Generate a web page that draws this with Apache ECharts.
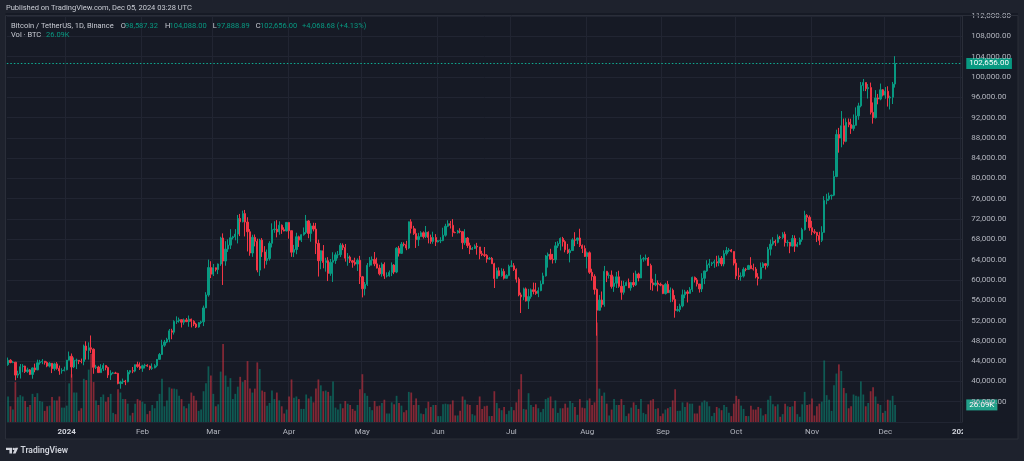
<!DOCTYPE html>
<html><head><meta charset="utf-8">
<script src="https://cdn.jsdelivr.net/npm/echarts@6/dist/echarts.min.js"></script>
<style>html,body{margin:0;padding:0;background:#1e222d;}#c{width:1024px;height:461px;}</style>
</head><body><div id="c"></div>
<script>
// ---------- DATA (BTC/USDT daily, Dec 8 2023 .. Dec 5 2024) ----------
const startDate = [2023, 11, 8];
const totalSlots = 391; // includes empty future days up to Jan 1 2025
const monthStarts = ['2024-01-01','2024-02-01','2024-03-01','2024-04-01','2024-05-01','2024-06-01','2024-07-01','2024-08-01','2024-09-01','2024-10-01','2024-11-01','2024-12-01','2025-01-01'];
const monthLabels = ['2024','Feb','Mar','Apr','May','Jun','Jul','Aug','Sep','Oct','Nov','Dec','2025'];
const priceTicks = [32000, 112000, 4000];

const opens = [
43290,44170,43720,43790,41240,41480,42890,43020,41940,42270,41370,42650,42270,43660,43860,43990,43730,43010,43580,42510,43450,42580,42070,42140,
42280,44180,44950,42840,44150,44160,43970,43930,46970,46110,46630,46340,42780,42840,41730,42500,43140,42740,41260,41620,41660,41580,39570,39890,40080,39930,41820,42120,42030,43300,42950,
42580,43080,43190,43010,42580,42660,43090,44340,45290,47130,47750,48290,49960,49700,51800,51920,52160,51660,52120,51780,52260,51840,51300,50730,51570,51730,54480,57040,62430,
61130,62390,62030,63130,68250,63720,66070,66850,68300,68500,69020,72100,71450,73070,71390,69490,65300,68390,67610,61930,67840,65500,63800,64220,67210,69880,69990,69460,70780,69890,69640,
71330,69700,65460,65970,68500,67840,68900,69360,71620,69150,70630,70010,67200,63790,65740,63420,63790,61280,63470,63820,64940,64960,66840,66400,64290,64500,63770,63460,63120,63870,
60610,58250,59120,62890,63890,64030,63160,62330,61190,63070,60790,60800,61450,62930,61550,66250,65230,67050,66940,66280,71450,70140,69120,67930,68530,69290,68510,69400,68350,67580,68360,
67490,67710,67750,68800,70570,71080,70760,69340,69310,69650,69510,67320,68240,66760,66010,66190,66640,66490,65160,64960,64830,64100,64250,63180,60280,61810,60840,61680,60320,60890,
62680,62770,62040,60150,57040,56660,58230,55850,56710,58050,57720,57340,57890,59200,60790,64720,65040,64090,63970,66710,67160,68160,67530,65940,65370,65780,67900,67810,68250,66780,66190,
64620,65350,61500,60690,58120,54020,56040,55130,61700,60880,60940,58710,59350,60600,58740,57560,58870,59490,58430,59490,59010,61160,60380,64100,64180,64260,62830,59420,59030,59380,59120,
58970,57300,59130,57480,57970,56160,53950,54160,54870,57050,57640,57340,58130,60500,60000,59180,58210,60310,61760,62950,63200,63350,63580,63340,64260,63150,65180,65790,65890,65600,
63300,60800,60650,60750,62090,62070,62820,62220,62130,60580,60270,62440,63190,62850,66050,67040,67610,67400,68420,68360,69000,67370,67390,66660,68160,66640,67010,67930,69910,72720,72340,
70290,69490,69370,68740,67800,69360,75640,75900,76550,76680,80370,88650,87950,90370,87300,91060,90610,89850,90460,92310,94290,98320,98890,97670,97900,93010,91960,95860,95640,97460,
96410,97190,95840,96000,98587.32
];
const highs = [
44700,44370,44040,43800,42100,43430,43400,43090,42700,42430,42750,43500,44280,44240,44400,43990,43950,43800,43600,43680,43800,43120,42600,42900,
44190,45880,45500,44730,44490,44200,44500,47250,47900,47700,49050,46500,43260,43080,43400,43580,43200,42930,42200,41870,41890,41690,40130,40560,40300,42250,42200,42840,43300,43880,43750,
43290,43480,43380,43120,43540,43400,44370,45600,48200,48170,48590,50330,50370,52050,52820,52570,52200,52380,52490,52980,52370,52050,51550,51700,51960,54940,57580,64000,63680,
63140,62430,63230,68500,69170,67640,67990,69990,68680,70000,72800,73000,73650,73780,72350,70000,68900,68950,68120,68100,68240,66650,65980,67620,71150,71560,71770,71550,70920,70360,71370,
71340,69700,66900,69290,68720,69000,70330,72800,71760,71170,71260,71230,67930,65820,66870,64370,64480,64120,65450,65420,65700,67250,67200,67080,65290,64800,63920,64370,64230,64740,
60780,59600,63330,64500,64630,65500,64390,62990,63420,63460,61490,61850,63450,63100,66450,66700,67460,67400,67700,71500,71950,70650,70100,69270,69600,69560,70620,69560,68920,69500,69020,
67860,68410,70280,71060,71750,71630,71980,69530,69850,70180,69560,69990,68450,67330,66480,66990,67300,66490,65730,66480,65070,64520,64500,63370,62400,62480,62300,62200,61110,63000,
63850,63300,62280,60500,57500,58470,58500,58230,58300,59470,59420,58530,59850,61420,64900,65390,66130,65120,67480,67610,68370,68480,67820,67100,66150,68200,69400,68320,70080,66990,66800,
65590,65600,62200,61100,58300,57040,57720,62750,61770,61470,61860,60680,61580,61800,59850,59820,59700,60270,59620,61400,61830,61420,64950,64510,65000,64500,63200,60230,61190,59900,59460,
59070,59430,59810,58520,58300,56990,54850,55300,58100,58040,57990,58580,60650,60660,60380,59210,61320,61790,63870,64130,63560,64000,64750,64820,64700,65840,66500,66260,66080,65620,
64130,62390,61470,62480,62370,62970,64480,63200,62530,61320,63420,63480,63280,66500,67950,68420,67940,68970,68690,69400,69500,67840,67450,68850,68770,67450,68330,70270,73620,72960,72700,
71630,70000,69400,69480,70580,76500,76960,77200,76800,81500,89600,89950,93270,91790,91850,91800,91760,92600,94000,94900,99000,99590,98900,98600,98880,94970,97400,96650,98690,97600,
98000,98150,96300,99000,104088
];
const lows = [
43080,43580,43590,40220,40680,40560,41810,41660,41680,41250,40530,41800,42210,43300,43400,43300,42800,42760,41640,42100,42300,41300,41520,41970,
42180,44150,40750,42630,42430,43400,43560,43180,44300,44300,45610,41500,42440,41720,41720,42050,42200,40680,40280,41430,41500,39430,38560,39480,39260,39820,41400,41620,41800,42680,42270,
41880,42560,42880,42220,42260,42580,42790,44330,45240,46800,47540,47710,48300,49230,51320,51570,50620,51160,51680,50760,50630,50900,50520,50590,51280,50900,54450,56690,60360,
60760,61650,61140,62760,59000,62790,65510,66080,67960,67800,67190,68620,71330,68560,65600,64760,64540,66600,61500,60780,64530,62260,63000,63810,66390,69280,68380,68900,69070,69570,69570,
68120,64550,64500,65060,66500,67460,68720,69040,68210,67520,69560,65090,60660,62100,62280,61630,59770,60810,59600,63160,64240,64500,65870,63600,62790,63330,62400,62810,61760,59190,
56550,56940,58810,62590,62830,62700,62250,60890,60630,60190,60490,60630,60750,61130,61330,64600,65120,66600,65860,66050,69160,68860,66300,66680,68500,68150,68250,67200,67120,67130,66670,
67380,67250,67620,68520,70390,70120,68500,69200,69130,69180,66050,66900,66300,65080,65900,66080,64960,64060,64690,64500,63380,63950,63150,58400,60270,60710,60620,60070,60300,60720,
62500,61760,59460,56770,53480,56010,55750,54260,56290,57160,57050,56600,57760,59170,60650,62420,63900,63220,63300,66300,65800,66570,65430,65120,63450,65760,66640,67060,66480,65300,64520,
62250,61180,59850,57120,49000,53960,54560,54720,59570,60260,58290,57640,58400,58450,56080,57100,58790,58400,57870,58580,58790,59710,60350,63580,63800,62800,58030,57860,58760,57740,58750,
57200,57120,57410,55600,55680,52550,53740,53650,54600,56390,55550,57320,57640,59480,58700,57490,57610,59170,61570,62350,62740,62380,62600,62700,62700,62670,64820,65450,65420,62850,
60170,59990,59830,60460,61690,61950,62130,61830,60300,58900,60080,62420,62050,62450,64800,66750,66660,67210,68040,68080,66570,66570,65260,66580,65520,66450,66850,67500,69730,71440,69680,
68820,69020,67460,66840,67460,69320,74900,75590,75820,76500,80230,85070,86130,86670,87120,90090,88770,89380,90400,91540,94000,97200,97200,95730,92600,90790,91820,94600,95400,96160,
95700,94150,93580,94660,97888.89
];
const closes = [
44170,43720,43790,41240,41480,42890,43020,41940,42270,41370,42650,42270,43660,43860,43990,43730,43010,43580,42510,43450,42580,42070,42140,42280,
44180,44950,42840,44150,44160,43970,43930,46970,46110,46630,46340,42780,42840,41730,42500,43140,42740,41260,41620,41660,41580,39570,39890,40080,39930,41820,42120,42030,43300,42950,42580,
43080,43190,43010,42580,42660,43090,44340,45290,47130,47750,48290,49960,49700,51800,51920,52160,51660,52120,51780,52260,51840,51300,50730,51570,51730,54480,57040,62430,61130,
62390,62030,63130,68250,63720,66070,66850,68300,68500,69020,72100,71450,73070,71390,69490,65300,68390,67610,61930,67840,65500,63800,64220,67210,69880,69990,69460,70780,69890,69640,71330,
69700,65460,65970,68500,67840,68900,69360,71620,69150,70630,70010,67200,63790,65740,63420,63790,61280,63470,63820,64940,64960,66840,66400,64290,64500,63770,63460,63120,63870,60610,
58250,59120,62890,63890,64030,63160,62330,61190,63070,60790,60800,61450,62930,61550,66250,65230,67050,66940,66280,71450,70140,69120,67930,68530,69290,68510,69400,68350,67580,68360,67490,
67710,67750,68800,70570,71080,70760,69340,69310,69650,69510,67320,68240,66760,66010,66190,66640,66490,65160,64960,64830,64100,64250,63180,60280,61810,60840,61680,60320,60890,62680,
62770,62040,60150,57040,56660,58230,55850,56710,58050,57720,57340,57890,59200,60790,64720,65040,64090,63970,66710,67160,68160,67530,65940,65370,65780,67900,67810,68250,66780,66190,64620,
65350,61500,60690,58120,54020,56040,55130,61700,60880,60940,58710,59350,60600,58740,57560,58870,59490,58430,59490,59010,61160,60380,64100,64180,64260,62830,59420,59030,59380,59120,58970,
57300,59130,57480,57970,56160,53950,54160,54870,57050,57640,57340,58130,60500,60000,59180,58210,60310,61760,62950,63200,63350,63580,63340,64260,63150,65180,65790,65890,65600,63300,
60800,60650,60750,62090,62070,62820,62220,62130,60580,60270,62440,63190,62850,66050,67040,67610,67400,68420,68360,69000,67370,67390,66660,68160,66640,67010,67930,69910,72720,72340,70290,
69490,69370,68740,67800,69360,75640,75900,76550,76680,80370,88650,87950,90370,87300,91060,90610,89850,90460,92310,94290,98320,98890,97670,97900,93010,91960,95860,95640,97460,96410,
97190,95840,96000,98587.32,102656
];
// volume in thousands of BTC
const volumes = [
39,24,19,61,38,41,39,32,23,26,43,38,44,32,31,17,24,25,38,33,33,39,22,22,
25,59,73,45,45,17,21,66,64,80,104,61,33,26,38,42,31,38,43,14,12,50,45,35,35,28,10,14,28,35,33,
31,28,12,17,26,21,32,43,66,24,33,53,51,51,50,40,35,24,21,28,45,40,33,17,19,47,59,85,71,
43,24,27,77,119,71,54,67,35,43,54,69,61,64,93,51,45,51,91,81,48,46,25,29,48,35,45,33,24,13,19,
39,65,37,39,35,20,20,42,36,39,30,51,65,56,47,48,46,40,62,22,19,28,21,32,28,26,20,17,26,50,
73,44,40,23,18,32,24,25,29,34,13,13,30,27,40,29,25,15,18,46,45,26,36,26,13,12,21,31,23,26,26,
9,9,27,28,27,27,33,10,10,17,39,34,27,26,12,10,26,39,20,24,25,9,9,47,29,21,18,23,12,17,
23,18,30,50,73,20,19,44,26,23,27,21,15,20,35,37,39,21,33,14,21,21,28,22,32,29,23,11,35,22,21,
33,36,26,30,152,51,40,45,28,10,19,35,26,26,35,26,9,13,22,30,26,20,35,14,12,27,33,35,20,21,9,
13,19,21,23,33,50,17,17,30,23,30,28,28,13,13,25,30,33,31,24,9,14,23,21,18,26,23,14,9,28,
40,35,25,20,9,9,25,19,19,23,21,10,12,34,40,27,24,27,8,12,28,24,23,24,32,12,8,27,46,26,27,
36,10,24,28,31,94,41,34,17,56,74,88,78,52,44,21,24,42,40,39,62,42,24,29,47,53,39,28,26,14,
17,34,33,40,26.09
];
const headerText = 'Published on TradingView.com, Dec 05, 2024 03:28 UTC';
const symbolText = 'Bitcoin / TetherUS, 1D, Binance';
const volText = 'Vol · BTC';

// ---------- STYLE ----------
const FF = 'Roboto, "Noto Sans", sans-serif';
const paneBg = '#161a25', outerBg = '#1e222d', gridCol = '#212532';
const upC = '#089981', downC = '#f23645';
const volUp = 'rgba(8,153,129,0.5)', volDown = 'rgba(242,54,69,0.5)';
const txt = '#b2b5be';

const dates = [];
for (let i = 0; i < totalSlots; i++) {
  const d = new Date(Date.UTC(startDate[0], startDate[1], startDate[2] + i));
  dates.push(d.toISOString().slice(0, 10));
}
const candles = closes.map((c, i) => [opens[i], closes[i], lows[i], highs[i]]);
const volData = volumes.map((v, i) => ({ value: v, itemStyle: { color: closes[i] >= opens[i] ? volUp : volDown } }));
const n = closes.length;
const lastO = opens[n-1], lastH = highs[n-1], lastL = lows[n-1], lastC = closes[n-1], prevC = closes[n-2];
const fmt2 = v => v.toLocaleString('en-US', { minimumFractionDigits: 2, maximumFractionDigits: 2 });
const chg = lastC - prevC, pct = chg / prevC * 100;
const isMonthStart = (idx, val) => val.slice(8) === '01';

const slotW = 2.4436, gridLeft = 6.83;
const gridRight = 1024 - (gridLeft + totalSlots * slotW);

const chart = echarts.init(document.getElementById('c'), null, { renderer: 'canvas' });
const T = (text, x, y, fill, extra) => Object.assign({ type: 'text', z: 20, style: Object.assign({ text, x, y, fill, fontSize: 7.5, fontFamily: FF, verticalAlign: 'middle', align: 'left' }, extra || {}) });
const boxLabel = (text, bg) => ({ show: true, position: 'end', distance: 4, formatter: text, backgroundColor: bg, color: '#ffffff', padding: [2, 3, 1, 3], fontSize: 8, fontFamily: FF, opacity: 1 });

chart.setOption({
  animation: false,
  backgroundColor: paneBg,
  grid: { left: gridLeft, right: gridRight, top: 16, bottom: 39 },
  xAxis: {
    type: 'category', data: dates, boundaryGap: true, z: 1,
    axisLine: { show: false }, axisTick: { show: false },
    axisLabel: {
      interval: isMonthStart, margin: 6, color: txt, fontSize: 8, fontFamily: FF,
      formatter: v => {
        const k = monthStarts.indexOf(v); if (k < 0) return '';
        const lab = monthLabels[k];
        return /^\d{4}$/.test(lab) ? '{y|' + lab + '}' : lab;
      },
      rich: { y: { fontWeight: 'bold', color: '#d1d4dc', fontSize: 8, fontFamily: FF } }
    },
    splitLine: { show: true, interval: isMonthStart, lineStyle: { color: gridCol, width: 1 } }
  },
  yAxis: [{
    type: 'value', position: 'right', min: priceTicks[0], max: priceTicks[1], interval: priceTicks[2], z: 5,
    axisLine: { show: true, lineStyle: { color: '#2a2e39' } }, axisTick: { show: false },
    axisLabel: { margin: 9, color: txt, fontSize: 8, fontFamily: FF, formatter: v => v === priceTicks[0] ? '' : fmt2(v) },
    splitLine: { show: true, lineStyle: { color: gridCol, width: 1 } }
  }, {
    type: 'value', position: 'right', min: 0, max: 620, axisLine: { show: false }, axisTick: { show: false }, axisLabel: { show: false }, splitLine: { show: false }
  }],
  series: [{
    type: 'bar', yAxisIndex: 1, data: volData, barWidth: '72%', z: 6, silent: true,
    markLine: {
      symbol: ['none', 'none'], silent: true, animation: false,
      data: [{ yAxis: volumes[n-1] }],
      lineStyle: { color: 'rgba(0,0,0,0)', width: 1, type: 'solid' },
      label: boxLabel(volumes[n-1].toFixed(2) + 'K', '#22a08a')
    }
  }, {
    type: 'candlestick', data: candles, barWidth: '72%', z: 7, silent: true,
    itemStyle: { color: upC, color0: downC, borderColor: upC, borderColor0: downC, borderWidth: 1 },
    markLine: {
      symbol: ['none', 'none'], silent: true, animation: false,
      data: [{ yAxis: lastC }],
      lineStyle: { color: '#0fae93', type: [1.5, 2], width: 1 },
      label: boxLabel(fmt2(lastC), upC)
    }
  }],
  graphic: [
    { type: 'rect', z: 3, shape: { x: 963, y: 422.5, width: 56, height: 17 }, style: { fill: paneBg } },
    { type: 'rect', z: 15, shape: { x: 0, y: 0, width: 1024, height: 13 }, style: { fill: outerBg } },
    { type: 'rect', z: 15, shape: { x: 0, y: 439, width: 1024, height: 22 }, style: { fill: outerBg } },
    { type: 'rect', z: 15, shape: { x: 0, y: 0, width: 5.5, height: 461 }, style: { fill: outerBg } },
    { type: 'rect', z: 15, shape: { x: 1018, y: 0, width: 6, height: 461 }, style: { fill: outerBg } },
    { type: 'rect', z: 16, shape: { x: 5.5, y: 15.5, width: 1012.5, height: 423.5 }, style: { fill: null, stroke: '#2a2e39', lineWidth: 1 } },
    T(headerText, 6, 8.5, '#c9ccd4'),
    T(symbolText, 11, 25.7, '#c9ccd4'),
    T('O', 120.7, 25.7, '#c9ccd4'), T(fmt2(lastO), 125, 25.7, upC),
    T('H', 165, 25.7, '#c9ccd4'), T(fmt2(lastH), 169.5, 25.7, upC),
    T('L', 212.7, 25.7, '#c9ccd4'), T(fmt2(lastL), 216.7, 25.7, upC),
    T('C', 255.7, 25.7, '#c9ccd4'), T(fmt2(lastC), 260, 25.7, upC),
    T((chg >= 0 ? '+' : '') + fmt2(chg) + ' (' + (chg >= 0 ? '+' : '') + pct.toFixed(2) + '%)', 302, 25.7, upC),
    T(volText, 11, 35.3, '#c9ccd4'), T(volumes[n-1].toFixed(2) + 'K', 46, 35.3, upC),
    { type: 'polygon', z: 20, shape: { points: [[6,447.7],[12,447.7],[12,453.5],[9.4,453.5],[9.4,449.9],[6,449.9]] }, style: { fill: '#d1d4dc' } },
    { type: 'circle', z: 20, shape: { cx: 13.8, cy: 448.9, r: 1.2 }, style: { fill: '#d1d4dc' } },
    { type: 'polygon', z: 20, shape: { points: [[15.4,447.7],[18.2,447.7],[15.6,453.5],[12.8,453.5]] }, style: { fill: '#d1d4dc' } },
    T('TradingView', 20.5, 451, '#d1d4dc', { fontSize: 8.5, fontWeight: 600 })
  ]
});
</script>
</body></html>
